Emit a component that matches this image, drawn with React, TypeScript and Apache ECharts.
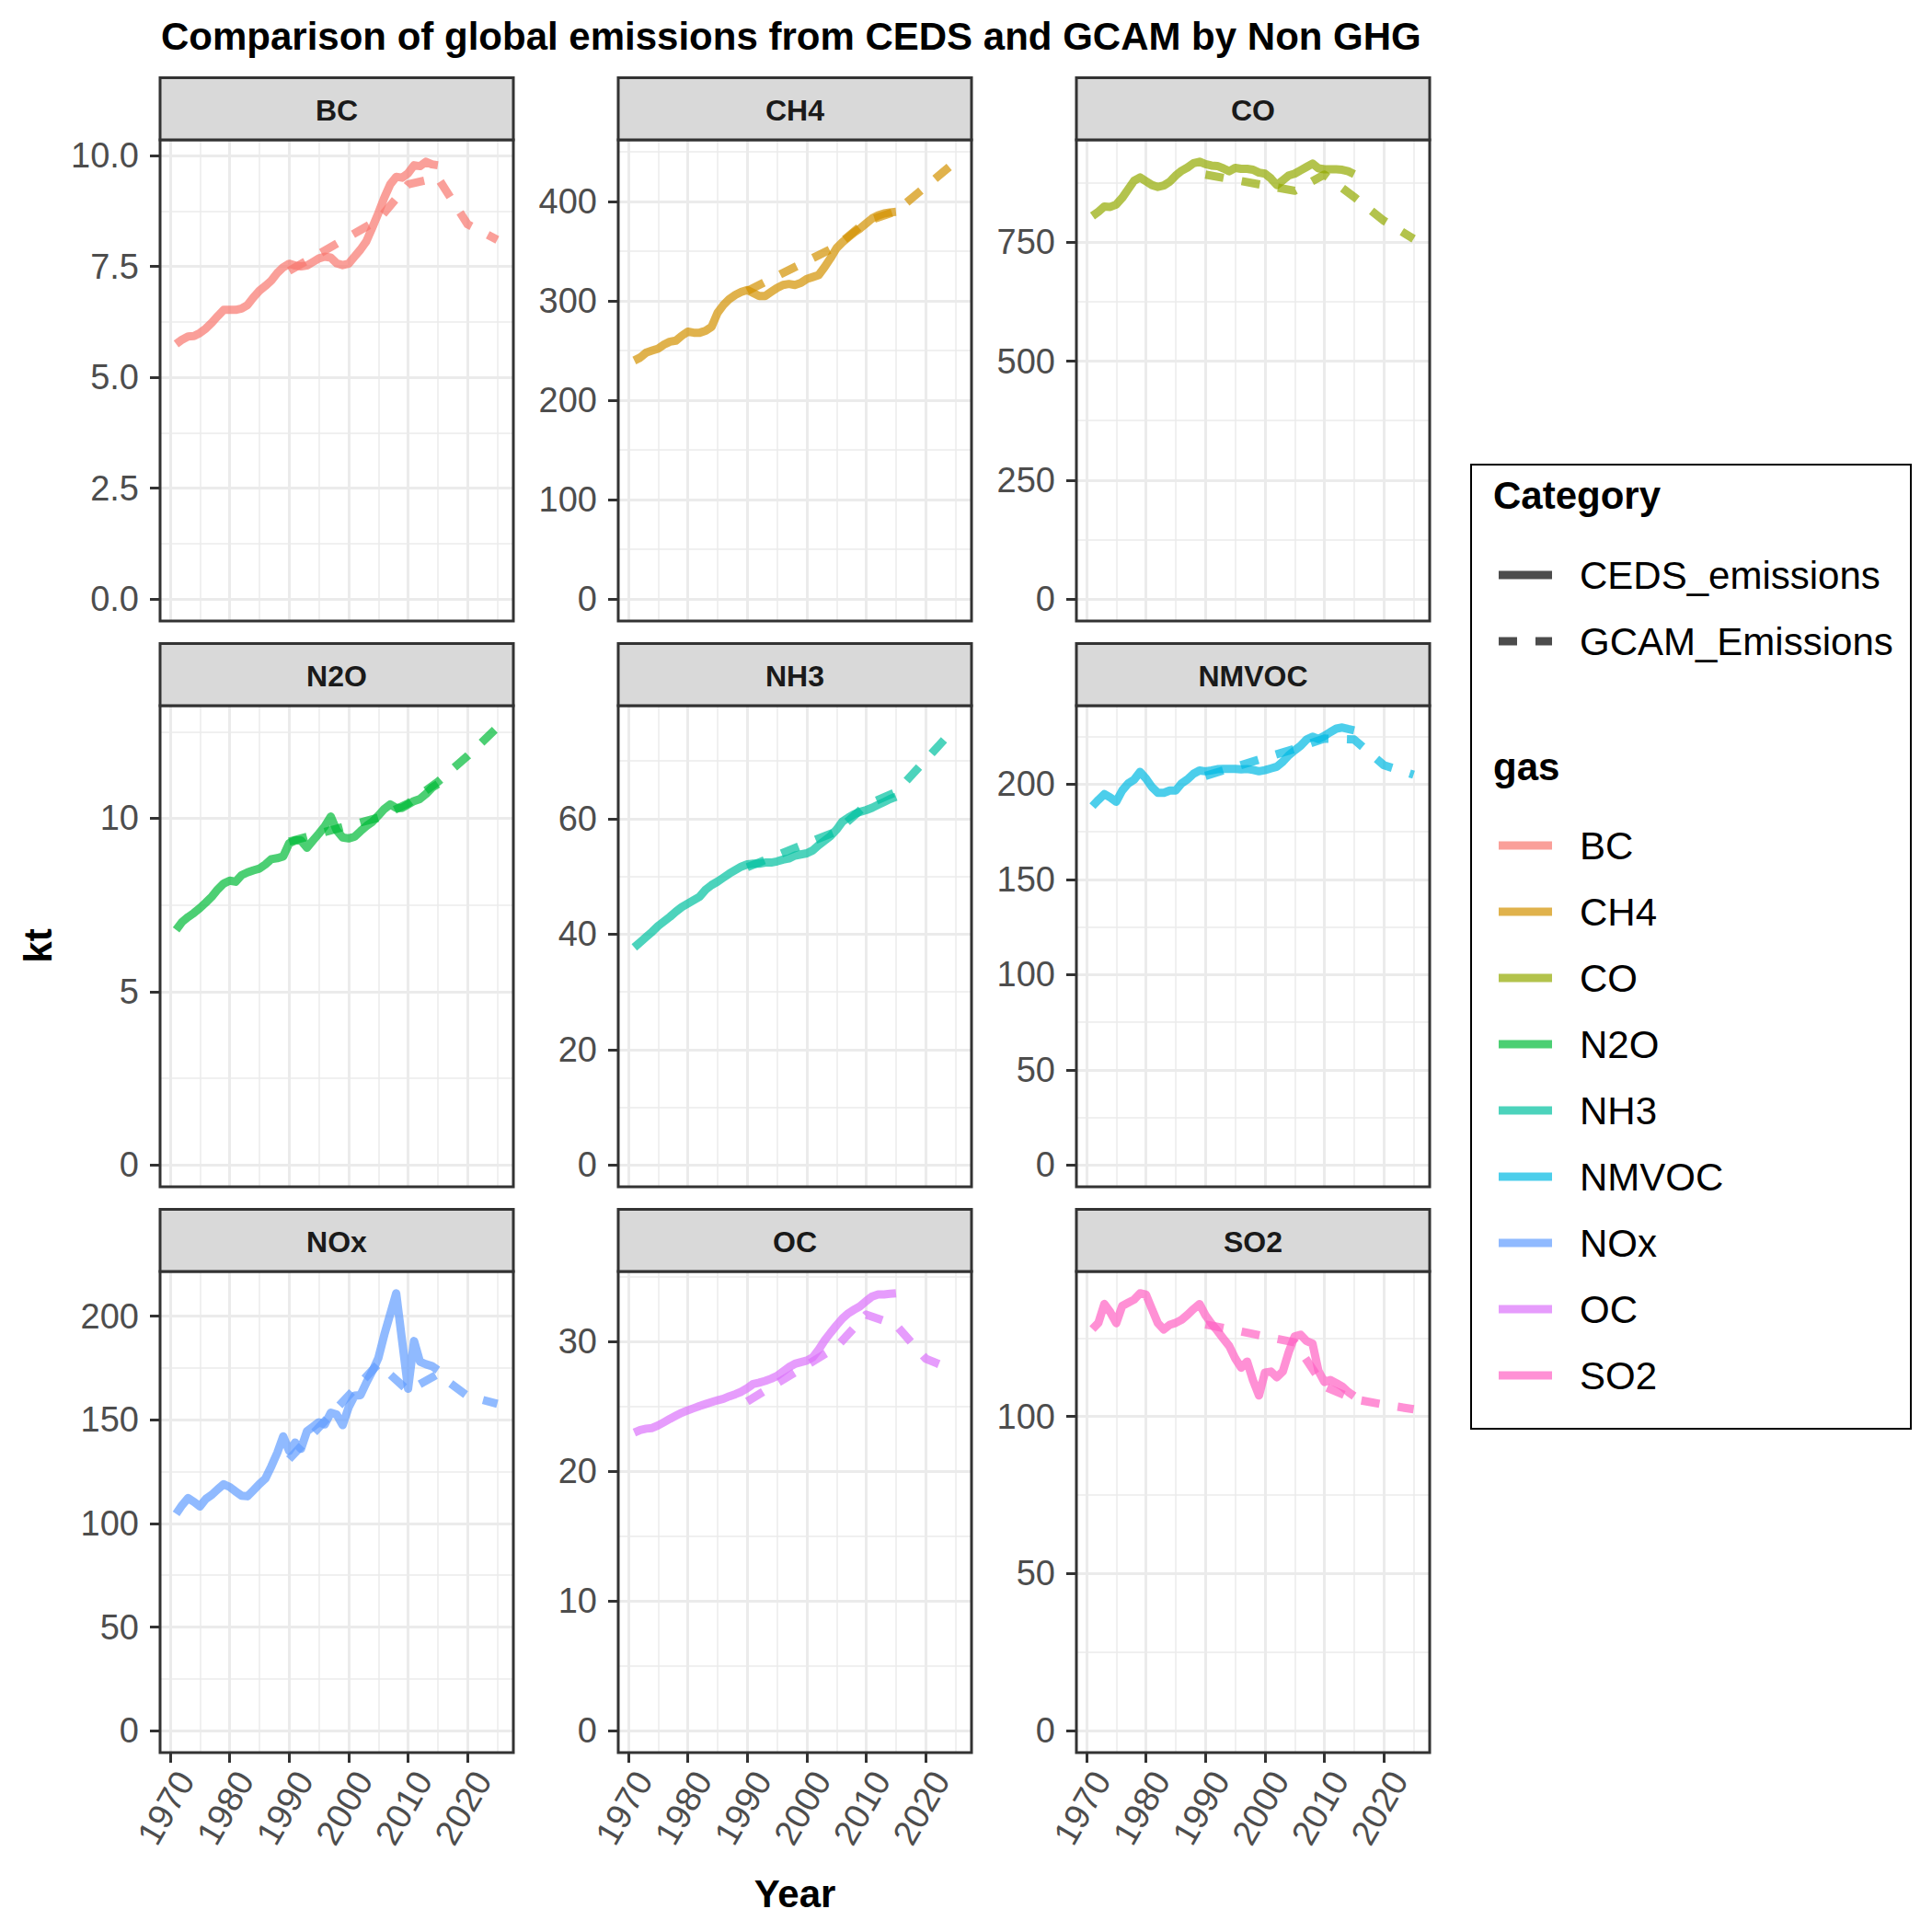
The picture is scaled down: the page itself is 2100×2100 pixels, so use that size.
import React, { useEffect, useRef } from "react";
import * as echarts from "echarts";

const FONT = '"Liberation Sans", Arial, Helvetica, sans-serif';

// ---- data -------------------------------------------------------------
const gases = ["BC", "CH4", "CO", "N2O", "NH3", "NMVOC", "NOx", "OC", "SO2"];
const gasColors = ["#F8766D", "#D39200", "#93AA00", "#00BA38", "#00C19F", "#00B9E3", "#619CFF", "#DB72FB", "#FF61C3"];
const categories = ["CEDS_emissions", "GCAM_Emissions"];

const cedsYears = [
  1971, 1972, 1973, 1974, 1975, 1976, 1977, 1978, 1979, 1980,
  1981, 1982, 1983, 1984, 1985, 1986, 1987, 1988, 1989, 1990,
  1991, 1992, 1993, 1994, 1995, 1996, 1997, 1998, 1999, 2000,
  2001, 2002, 2003, 2004, 2005, 2006, 2007, 2008, 2009, 2010,
  2011, 2012, 2013, 2014, 2015,
];
const gcamYears = [1990, 2005, 2010, 2015, 2020, 2025];

const cedsBC = [
  5.75, 5.85, 5.92, 5.93, 6.0, 6.1, 6.23, 6.38, 6.52, 6.52,
  6.52, 6.55, 6.63, 6.8, 6.95, 7.06, 7.18, 7.35, 7.48, 7.56,
  7.52, 7.5, 7.52, 7.6, 7.68, 7.72, 7.7, 7.57, 7.53, 7.56,
  7.72, 7.88, 8.07, 8.38, 8.7, 9.05, 9.35, 9.52, 9.5, 9.6,
  9.78, 9.76, 9.86, 9.8, 9.78,
];
const cedsCH4 = [
  240, 243, 248, 250, 252, 256, 259, 260, 265, 269,
  268, 268, 270, 274, 288, 296, 302, 306, 309, 311,
  308, 305, 305, 309, 313, 316, 317, 316, 318, 322,
  324, 326, 334, 343, 353, 359, 364, 369, 373, 378,
  383, 386, 388, 389, 389.5,
];
const cedsCO = [
  805, 814, 825, 824, 829, 843, 861, 879, 886, 878,
  870, 866, 869, 877, 890, 900, 907, 916, 919, 914,
  911, 910, 905, 899, 906, 904, 904, 902, 896, 894,
  884, 870, 880, 890, 894, 901, 908, 915, 905, 903,
  903, 903, 902, 899, 893,
];
const cedsN2O = [
  6.78, 7.01, 7.15, 7.27, 7.41, 7.57, 7.74, 7.95, 8.12, 8.2,
  8.17, 8.36, 8.44, 8.5, 8.55, 8.67, 8.82, 8.85, 8.9, 9.28,
  9.36, 9.36, 9.15, 9.36, 9.56, 9.77, 10.05, 9.65, 9.45, 9.42,
  9.47, 9.63, 9.78, 9.9, 10.08, 10.27, 10.4, 10.3, 10.3, 10.4,
  10.5, 10.56, 10.7, 10.88, 10.99,
];
const cedsNH3 = [
  37.7, 38.6, 39.5, 40.4, 41.4, 42.2, 43.0, 43.9, 44.7, 45.3,
  45.9, 46.5, 47.7, 48.5, 49.1, 49.8, 50.5, 51.1, 51.7, 52.1,
  52.2, 52.2, 52.4, 52.4, 52.6, 52.9, 53.1, 53.6, 53.8, 54.0,
  54.5, 55.4, 56.2, 57.0, 58.1, 59.5, 60.2, 60.8, 61.2, 61.5,
  61.9, 62.4, 62.9, 63.4, 63.8,
];
const cedsNMVOC = [
  188.5, 191.8, 194.8, 193, 190.8, 196.7, 200.4, 202.4, 206.5, 203,
  198.5, 195.5, 195.5, 196.7, 196.7, 200.5, 202.6, 205.5, 207.2, 206.8,
  207.3, 207.9, 208.1, 208.1, 208.1, 207.8, 208, 207.5, 206.8, 207.4,
  208.3, 209.2, 211.8, 215.2, 217.8, 220.2, 223.5, 225, 223.8, 225.4,
  227.4, 229.2, 229.8, 229, 228.3,
];
const cedsNOx = [
  104.6, 108.8, 112.2, 110.4, 108.2, 111.8, 113.8, 116.5, 118.9, 117.6,
  115.4, 113.4, 113.1, 116, 119, 121.6, 127.5, 134, 142, 135,
  139, 136, 144.5, 146.6, 148.8, 147.8, 153.4, 152.5, 147.4, 156,
  161.6, 161.9, 168, 173.5, 179.8, 191, 201, 211, 188, 165,
  188, 178, 176.8, 175.9, 174,
];
const cedsOC = [
  23.0, 23.2, 23.3, 23.35, 23.55, 23.8, 24.06, 24.3, 24.53, 24.72,
  24.88, 25.05, 25.2, 25.35, 25.49, 25.61, 25.8, 25.96, 26.15, 26.42,
  26.75, 26.85, 26.98, 27.15, 27.36, 27.7, 28.05, 28.3, 28.43, 28.55,
  28.8, 29.4, 30.1, 30.7, 31.27, 31.8, 32.2, 32.49, 32.75, 33.15,
  33.5, 33.66, 33.66, 33.7, 33.74,
];
const cedsSO2 = [
  127.8, 129.8, 135.8, 133.2, 129.7, 135.2, 136.2, 137.2, 139.2, 138.8,
  134.2, 129.7, 127.7, 129.2, 129.8, 130.8, 132.4, 134.2, 135.8, 132.2,
  129.6, 127.3, 124.8, 122.4, 118.5, 115.5, 117.5, 111.5, 106.7, 114,
  114.3, 112.5, 114.3, 120.5, 125.5, 126, 124, 123.2, 114.5, 111,
  111.6, 110.6, 109.5, 107.8, 106.5,
];

const gcamBC = [7.4, 8.55, 9.35, 9.5, 8.45, 8.1];
const gcamCH4 = [310, 355, 380, 390, 415, 440];
const gcamCO = [892, 858, 892, 845, 795, 757];
const gcamN2O = [9.33, 10.02, 10.43, 11.05, 11.8, 12.62];
const gcamNH3 = [51.6, 57.8, 62.4, 64.6, 70.2, 75.8];
const gcamNMVOC = [204.4, 218.6, 224, 223.5, 210, 205];
const gcamNOx = [131, 177, 164, 172, 161.5, 157.7];
const gcamOC = [25.4, 29.6, 32.1, 31.3, 28.7, 27.75];
const gcamSO2 = [129.3, 123.6, 109.5, 105.5, 103.8, 102.3];

// ---- tick values ----------------------------------------------------------
const xMajorYears = [1970, 1980, 1990, 2000, 2010, 2020];
const xMinorYears = [1975, 1985, 1995, 2005, 2015, 2025];

const yMajorBC = [0, 2.5, 5, 7.5, 10];
const yMajorCH4 = [0, 100, 200, 300, 400];
const yMajorCO = [0, 250, 500, 750];
const yMajorN2O = [0, 5, 10];
const yMajorNH3 = [0, 20, 40, 60];
const yMajorNMVOC = [0, 50, 100, 150, 200];
const yMajorNOx = [0, 50, 100, 150, 200];
const yMajorOC = [0, 10, 20, 30];
const yMajorSO2 = [0, 50, 100];

const yMinorBC = [1.25, 3.75, 6.25, 8.75];
const yMinorCH4 = [50, 150, 250, 350, 450];
const yMinorCO = [125, 375, 625, 875];
const yMinorN2O = [2.5, 7.5, 12.5];
const yMinorNH3 = [10, 30, 50, 70];
const yMinorNMVOC = [25, 75, 125, 175, 225];
const yMinorNOx = [25, 75, 125, 175];
const yMinorOC = [5, 15, 25, 35];
const yMinorSO2 = [25, 75, 125];

const yLabelDecimals = [1, 0, 0, 0, 0, 0, 0, 0, 0];

const cedsByGas = [cedsBC, cedsCH4, cedsCO, cedsN2O, cedsNH3, cedsNMVOC, cedsNOx, cedsOC, cedsSO2];
const gcamByGas = [gcamBC, gcamCH4, gcamCO, gcamN2O, gcamNH3, gcamNMVOC, gcamNOx, gcamOC, gcamSO2];
const yMajorByGas = [yMajorBC, yMajorCH4, yMajorCO, yMajorN2O, yMajorNH3, yMajorNMVOC, yMajorNOx, yMajorOC, yMajorSO2];
const yMinorByGas = [yMinorBC, yMinorCH4, yMinorCO, yMinorN2O, yMinorNH3, yMinorNMVOC, yMinorNOx, yMinorOC, yMinorSO2];

// ---- layout ---------------------------------------------------------------
const PANEL_LEFT = [174, 672, 1170];
const PANEL_TOP = [152, 767, 1382];
const PANEL_W = 384;
const PANEL_H = 523;
const STRIP_H = 67.5;

const GRID_MAJOR = "#EBEBEB";
const DARK = "#333333";
const TICK_TEXT = "#4D4D4D";
const LINE_W = 9;
const LINE_ALPHA = 0.7;
const DASH = [20, 20];

function buildOption() {
  // ggplot-style 5% expansion of the shared year range
  const allYears = cedsYears.concat(gcamYears);
  const yrMin = Math.min(...allYears);
  const yrMax = Math.max(...allYears);
  const xMin = yrMin - 0.05 * (yrMax - yrMin);
  const xMax = yrMax + 0.05 * (yrMax - yrMin);

  const grid: any[] = [];
  const xAxis: any[] = [];
  const yAxis: any[] = [];
  const series: any[] = [];
  const elements: any[] = [];

  gases.forEach((gas, i) => {
    const row = Math.floor(i / 3);
    const col = i % 3;
    const left = PANEL_LEFT[col];
    const top = PANEL_TOP[row];
    const isBottom = row === 2;
    const color = gasColors[i];
    const ceds = cedsByGas[i];
    const gcam = gcamByGas[i];

    // free y scale from 0 to the panel max, expanded 5% both ways
    const peak = Math.max(...ceds, ...gcam);
    const yMin = -0.05 * peak;
    const yMax = 1.05 * peak;

    grid.push({
      left, top, width: PANEL_W, height: PANEL_H,
      containLabel: false, outerBoundsMode: "none", show: false,
    });

    const xBase = {
      type: "value", gridIndex: i, min: xMin, max: xMax,
      axisLine: { show: false, onZero: false },
    };
    xAxis.push({
      ...xBase,
      position: "bottom",
      axisTick: {
        show: isBottom, length: 11, customValues: xMajorYears,
        lineStyle: { color: DARK, width: 3 },
      },
      axisLabel: {
        show: isBottom, customValues: xMajorYears, rotate: 60,
        align: "right", verticalAlign: "top", margin: 14,
        fontSize: 38, color: TICK_TEXT, fontFamily: FONT, hideOverlap: false,
        formatter: (v: number) => String(Math.round(v)),
      },
      splitLine: { show: true, lineStyle: { color: GRID_MAJOR, width: 3 } },
    });
    xAxis.push({
      ...xBase,
      position: "top",
      axisTick: { show: false, customValues: xMinorYears },
      axisLabel: { show: false, customValues: xMinorYears },
      splitLine: { show: true, lineStyle: { color: GRID_MAJOR, width: 1.5 } },
    });

    const yBase = {
      type: "value", gridIndex: i, min: yMin, max: yMax,
      axisLine: { show: false, onZero: false },
    };
    const dec = yLabelDecimals[i];
    yAxis.push({
      ...yBase,
      position: "left",
      axisTick: {
        show: true, length: 11, customValues: yMajorByGas[i],
        lineStyle: { color: DARK, width: 3 },
      },
      axisLabel: {
        show: true, customValues: yMajorByGas[i], margin: 23,
        fontSize: 38, color: TICK_TEXT, fontFamily: FONT, hideOverlap: false,
        formatter: (v: number) => v.toFixed(dec),
      },
      splitLine: { show: true, lineStyle: { color: GRID_MAJOR, width: 3 } },
    });
    yAxis.push({
      ...yBase,
      position: "right",
      axisTick: { show: false, customValues: yMinorByGas[i] },
      axisLabel: { show: false, customValues: yMinorByGas[i] },
      splitLine: { show: true, lineStyle: { color: GRID_MAJOR, width: 1.5 } },
    });

    const lineBase = {
      type: "line", xAxisIndex: 2 * i, yAxisIndex: 2 * i,
      symbol: "none", showSymbol: false, silent: true, clip: true,
      emphasis: { disabled: true }, z: 3,
    };
    series.push({
      ...lineBase,
      name: `${gas} ${categories[0]}`,
      data: cedsYears.map((yr, k) => [yr, ceds[k]]),
      lineStyle: { color, width: LINE_W, opacity: LINE_ALPHA, type: "solid", cap: "butt", join: "round" },
    });
    series.push({
      ...lineBase,
      name: `${gas} ${categories[1]}`,
      data: gcamYears.map((yr, k) => [yr, gcam[k]]),
      lineStyle: { color, width: LINE_W, opacity: LINE_ALPHA, type: DASH, cap: "butt", join: "round" },
    });

    // panel frame and facet strip
    elements.push({
      type: "rect", silent: true, z: 100,
      shape: { x: left, y: top, width: PANEL_W, height: PANEL_H },
      style: { fill: "none", stroke: DARK, lineWidth: 3 },
    });
    elements.push({
      type: "rect", silent: true, z: 100,
      shape: { x: left, y: top - STRIP_H, width: PANEL_W, height: STRIP_H },
      style: { fill: "#D9D9D9", stroke: DARK, lineWidth: 3 },
    });
    elements.push({
      type: "text", silent: true, z: 101,
      x: left + PANEL_W / 2, y: top - STRIP_H / 2 + 1.5,
      style: {
        text: gas, fill: "#1A1A1A", fontSize: 32, fontWeight: "bold", fontFamily: FONT,
        align: "center", verticalAlign: "middle",
      },
    });
  });

  // titles
  elements.push({
    type: "text", silent: true, z: 101, x: 175, y: 39,
    style: {
      text: "Comparison of global emissions from CEDS and GCAM by Non GHG",
      fill: "#000", fontSize: 42, fontWeight: "bold", fontFamily: FONT,
      align: "left", verticalAlign: "middle",
    },
  });
  elements.push({
    type: "text", silent: true, z: 101, x: 864, y: 2058,
    style: {
      text: "Year", fill: "#000", fontSize: 42, fontWeight: "bold", fontFamily: FONT,
      align: "center", verticalAlign: "middle",
    },
  });
  elements.push({
    type: "text", silent: true, z: 101, x: 41, y: 1028, rotation: Math.PI / 2,
    style: {
      text: "kt", fill: "#000", fontSize: 42, fontWeight: "bold", fontFamily: FONT,
      align: "center", verticalAlign: "middle",
    },
  });

  // legend
  const LG_X = 1599, LG_Y = 505, LG_W = 478, LG_H = 1048;
  const KEY_X1 = 1629, KEY_X2 = 1687, LABEL_X = 1717, TITLE_X = 1623;
  elements.push({
    type: "rect", silent: true, z: 100,
    shape: { x: LG_X, y: LG_Y, width: LG_W, height: LG_H },
    style: { fill: "#fff", stroke: "#000", lineWidth: 2 },
  });
  const legendText = (text: string, x: number, y: number, bold: boolean) => ({
    type: "text", silent: true, z: 101, x, y,
    style: {
      text, fill: "#000", fontSize: 42, fontWeight: bold ? "bold" : "normal", fontFamily: FONT,
      align: "left", verticalAlign: "middle",
    },
  });
  elements.push(legendText("Category", TITLE_X, 538, true));
  const catY = [625, 697];
  categories.forEach((c, k) => {
    elements.push({
      type: "line", silent: true, z: 101,
      shape: { x1: KEY_X1, y1: catY[k], x2: KEY_X2, y2: catY[k] },
      style: {
        stroke: "rgba(0,0,0,0.7)", lineWidth: LINE_W, lineCap: "butt",
        lineDash: k === 0 ? null : DASH,
      },
    });
    elements.push(legendText(c, LABEL_X, catY[k], false));
  });
  elements.push(legendText("gas", TITLE_X, 833, true));
  gases.forEach((g, k) => {
    const y = 919 + k * 72;
    elements.push({
      type: "line", silent: true, z: 101,
      shape: { x1: KEY_X1, y1: y, x2: KEY_X2, y2: y },
      style: { stroke: gasColors[k], opacity: LINE_ALPHA, lineWidth: LINE_W, lineCap: "butt" },
    });
    elements.push(legendText(g, LABEL_X, y, false));
  });

  return {
    animation: false,
    backgroundColor: "#ffffff",
    textStyle: { fontFamily: FONT },
    grid, xAxis, yAxis, series,
    graphic: { elements },
  };
}

export default function App() {
  const ref = useRef<HTMLDivElement>(null);
  useEffect(() => {
    if (!ref.current) return;
    const chart = echarts.init(ref.current, null, { renderer: "svg" });
    chart.setOption(buildOption() as any);
    return () => chart.dispose();
  }, []);
  return (
    <div
      ref={ref}
      style={{ position: "absolute", left: 0, top: 0, width: 2100, height: 2100, background: "#fff" }}
    />
  );
}
